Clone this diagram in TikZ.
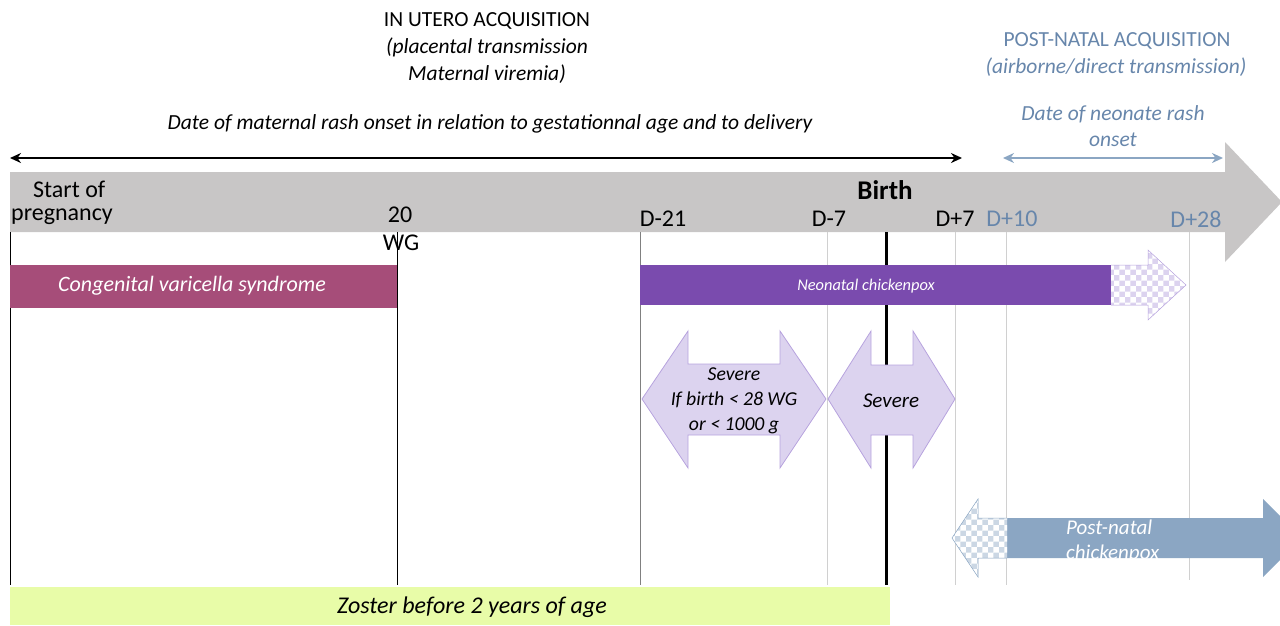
\documentclass[tikz,border=0pt]{standalone}
\usepackage{fontspec}
\setmainfont{Carlito}
\usetikzlibrary{arrows.meta,patterns}
\definecolor{bargray}{HTML}{C8C6C6}
\definecolor{plum}{HTML}{A64D79}
\definecolor{violetbar}{HTML}{7A4BAE}
\definecolor{lav}{HTML}{DCD3EF}
\definecolor{lavedge}{HTML}{B7A3DE}
\definecolor{steel}{HTML}{8BA6C3}
\definecolor{steeltext}{HTML}{6786AB}
\definecolor{zost}{HTML}{E8FCA8}
\definecolor{gline}{HTML}{D0D0D0}
\tikzset{
  lbl/.style={inner sep=0pt,font=\fontsize{24}{26}\selectfont},
  hdr/.style={inner sep=0pt,font=\fontsize{21.5}{26}\selectfont,align=center},
  hdri/.style={inner sep=0pt,font=\fontsize{21.5}{26}\selectfont\itshape,align=center},
  tick/.style={draw=black,line width=0.8pt},
  gtick/.style={draw=gline,line width=1pt},
  bar/.style={inner sep=0pt,anchor=north west},
}
\begin{document}
\begin{tikzpicture}[x=1pt,y=-1pt]
\useasboundingbox (0,0) rectangle (1280,625);
% header texts
\node[hdr] (hdrA) at (487,21) {IN UTERO ACQUISITION};
\node[hdri,font=\fontsize{21.5}{27}\selectfont\itshape] (hdrB) at (487,61) {(placental transmission\\Maternal viremia)};
\node[hdri] (hdrC) at (490,124) {Date of maternal rash onset in relation to gestationnal age and to delivery};
\node[hdr,text=steeltext] (hdrD) at (1117,41) {POST-NATAL ACQUISITION};
\node[hdri,text=steeltext] (hdrE) at (1116,67) {(airborne/direct transmission)};
\node[hdri,text=steeltext] (hdrF) at (1113,126) {Date of neonate rash\\onset};
% double arrows
\coordinate (ba1) at (10,158); \coordinate (ba2) at (962,158);
\draw[line width=2.5pt,{Stealth[length=11pt,width=10pt]}-{Stealth[length=11pt,width=10pt]}] (ba1) -- (ba2);
\coordinate (bb1) at (1003,158); \coordinate (bb2) at (1223,158);
\draw[steel,line width=2.5pt,{Stealth[length=11pt,width=10pt]}-{Stealth[length=11pt,width=10pt]}] (bb1) -- (bb2);
% timeline arrow
\fill[bargray] (10,172) -- (1225,172) -- (1225,142) -- (1282,202) -- (1225,262) -- (1225,232) -- (10,232) -- cycle;
% vertical lines
\draw[tick] (10,232) -- (10,585);
\draw[tick] (397,232) -- (397,585);
\draw[draw=gray,line width=1pt] (640,232) -- (640,585);
\draw[gtick] (827,232) -- (827,585);
\draw[gtick] (955,232) -- (955,585);
\draw[gtick] (1006,232) -- (1006,585);
\draw[gtick] (1189,232) -- (1189,580);
\draw[line width=3pt] (886,232) -- (886,585);
% timeline labels
\node[lbl,anchor=west] (t1) at (33,189) {Start of};
\node[lbl,anchor=west] (t2) at (11,217) {pregnancy};
\node[lbl] (t3) at (400,215) {20};
\node[lbl] (t4) at (401,243) {WG};
\node[lbl,font=\fontsize{27}{30}\selectfont\bfseries] (birth) at (885,190) {Birth};
\node[lbl] (d21) at (663,219) {D-21};
\node[lbl] (d7) at (829,219) {D-7};
\node[lbl] (dp7) at (955,219) {D+7};
\node[lbl,text=steeltext] (dp10) at (1012,219) {D+10};
\node[lbl,text=steeltext] (dp28) at (1196,219) {D+28};
% congenital
\node[bar,fill=plum,minimum width=387pt,minimum height=43pt] (cvs) at (10,265) {};
\node[inner sep=0pt,text=white,font=\fontsize{22}{24}\selectfont\itshape] (cvst) at (192,286) {Congenital varicella syndrome};
% neonatal chickenpox
\fill[lav] (1111,265) -- (1148,265) -- (1148,250) -- (1186,285) -- (1148,320) -- (1148,305) -- (1111,305) -- cycle;
\fill[pattern=checkerboard,pattern color=white] (1111,265) -- (1148,265) -- (1148,250) -- (1186,285) -- (1148,320) -- (1148,305) -- (1111,305) -- cycle;
\draw[lavedge,line width=0.5pt] (1111,265) -- (1148,265) -- (1148,250) -- (1186,285) -- (1148,320) -- (1148,305) -- (1111,305);
\node[bar,fill=violetbar,minimum width=471pt,minimum height=40pt] (nc) at (640,265) {};
\node[inner sep=0pt,text=white,font=\fontsize{16.4}{18}\selectfont\itshape] (nct) at (866,286) {Neonatal chickenpox};
% severe arrows
\draw[fill=lav,draw=lavedge,line width=0.8pt] (642,399) -- (688,331) -- (688,364) -- (780,364) -- (780,331) -- (826,399) -- (780,468) -- (780,435) -- (688,435) -- (688,468) -- cycle;
\node[align=center,inner sep=0pt,font=\fontsize{19.7}{25}\selectfont\itshape] (sev1) at (734,401) {Severe\\If birth < 28 WG\\or < 1000 g};
\draw[fill=lav,draw=lavedge,line width=0.8pt] (828,399) -- (871,331) -- (871,365) -- (913,365) -- (913,331) -- (955,399) -- (913,468) -- (913,435) -- (871,435) -- (871,468) -- cycle;
\node[inner sep=0pt,font=\fontsize{21}{24}\selectfont\itshape] (sev2) at (891,401) {Severe};
% post-natal chickenpox
\fill[steel] (1007,518) -- (1263,518) -- (1263,499) -- (1302,538) -- (1263,577) -- (1263,558) -- (1007,558) -- cycle;
\fill[steel!45] (1007,518) -- (978,518) -- (978,499) -- (952,538) -- (978,577) -- (978,558) -- (1007,558) -- cycle;
\fill[pattern=checkerboard,pattern color=white] (1007,518) -- (978,518) -- (978,499) -- (952,538) -- (978,577) -- (978,558) -- (1007,558) -- cycle;
\draw[steel,line width=0.5pt] (1007,518) -- (978,518) -- (978,499) -- (952,538) -- (978,577) -- (978,558) -- (1007,558);
\begin{scope}
\clip (1007,518) rectangle (1263,558);
\node[align=left,anchor=north west,inner sep=0pt,text=white,font=\fontsize{21}{25}\selectfont\itshape] (pnc) at (1066,520) {Post-natal\\chickenpox};
\end{scope}
% zoster
\node[bar,fill=zost,minimum width=880pt,minimum height=38pt] (zos) at (10,587) {};
\node[inner sep=0pt,font=\fontsize{24}{26}\selectfont\itshape] (zost) at (472,607) {Zoster before 2 years of age};
\end{tikzpicture}
\end{document}
